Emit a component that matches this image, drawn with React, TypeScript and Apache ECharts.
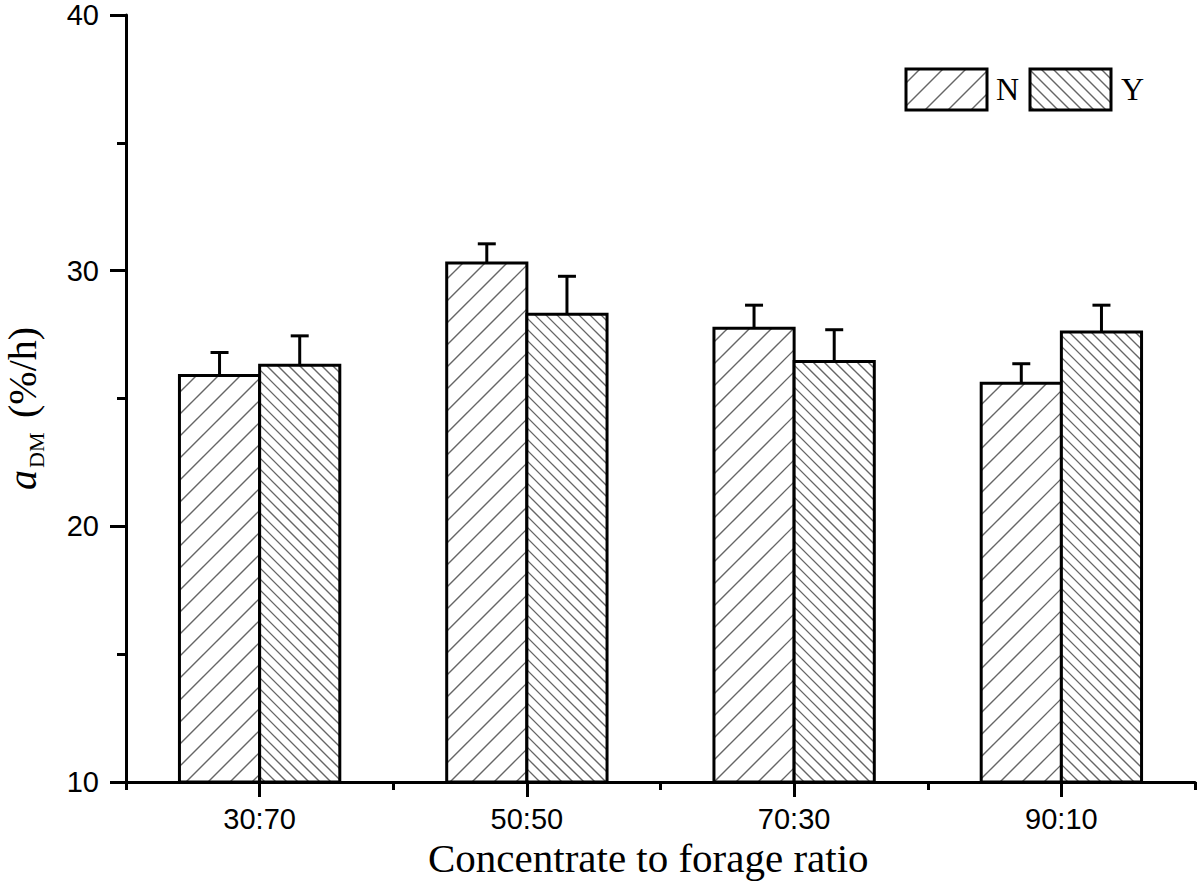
import React, { useEffect, useRef } from "react";
import * as echarts from "echarts";

const categories = ["30:70", "50:50", "70:30", "90:10"];
const nValues = [25.9, 30.3, 27.75, 25.6];
const nErrors = [0.9, 0.75, 0.9, 0.76];
const yValues = [26.3, 28.3, 26.45, 27.6];
const yErrors = [1.15, 1.48, 1.24, 1.05];
const yTicks = [10, 20, 30, 40];

const Y_MIN = 10;
const Y_MAX = 40;
const SERIF = "'Liberation Serif', 'Times New Roman', serif";
const SANS = "'Liberation Sans', Arial, sans-serif";

const hatchStyle = { stroke: "#666", lineWidth: 1.4, fill: "none" };

function hatch(x0: number, y0: number, x1: number, y1: number, step: number, dir: "up" | "down") {
  const out: any[] = [];
  if (dir === "up") {
    const cStart = Math.ceil((x0 + y0) / step) * step;
    for (let c = cStart; c <= x1 + y1; c += step) {
      const xa = Math.max(x0, c - y1);
      const xb = Math.min(x1, c - y0);
      if (xb - xa < 0.5) continue;
      out.push({ type: "line", shape: { x1: xa, y1: c - xa, x2: xb, y2: c - xb }, style: hatchStyle, silent: true });
    }
  } else {
    const cStart = Math.ceil((x0 - y1) / step) * step;
    for (let c = cStart; c <= x1 - y0; c += step) {
      const xa = Math.max(x0, c + y0);
      const xb = Math.min(x1, c + y1);
      if (xb - xa < 0.5) continue;
      out.push({ type: "line", shape: { x1: xa, y1: xa - c, x2: xb, y2: xb - c }, style: hatchStyle, silent: true });
    }
  }
  return out;
}

function makeRenderItem(side: number, step: number, dir: "up" | "down") {
  return (params: any, api: any) => {
    const idx = api.value(0);
    const val = api.value(1);
    const err = api.value(2);
    const top = api.coord([idx, val]);
    const base = api.coord([idx, Y_MIN]);
    const catW = api.size([1, 0])[0];
    const bw = catW * 0.3;
    const x0 = side < 0 ? top[0] - bw : top[0];
    const x1 = x0 + bw;
    const y0 = top[1];
    const y1 = base[1];
    const errTop = api.coord([idx, val + err])[1];
    const cx = (x0 + x1) / 2;
    const black = { stroke: "#000", lineWidth: 3 };
    return {
      type: "group",
      children: [
        { type: "rect", shape: { x: x0, y: y0, width: bw, height: y1 - y0 }, style: { fill: "#fff" } },
        ...hatch(x0, y0, x1, y1, step, dir),
        { type: "line", shape: { x1: cx, y1: y0, x2: cx, y2: errTop }, style: black },
        { type: "line", shape: { x1: cx - 9, y1: errTop, x2: cx + 9, y2: errTop }, style: black },
        { type: "rect", shape: { x: x0, y: y0, width: bw, height: y1 - y0 }, style: { fill: "none", stroke: "#000", lineWidth: 3 } },
      ],
    };
  };
}

function legendBox(x: number, y: number, w: number, h: number, step: number, dir: "up" | "down") {
  return [
    { type: "rect", shape: { x, y, width: w, height: h }, style: { fill: "#fff" } },
    ...hatch(x, y, x + w, y + h, step, dir),
    { type: "rect", shape: { x, y, width: w, height: h }, style: { fill: "none", stroke: "#000", lineWidth: 3 } },
  ];
}

export default function App() {
  const ref = useRef<HTMLDivElement>(null);
  useEffect(() => {
    if (!ref.current) return;
    const chart = echarts.init(ref.current, null, { renderer: "svg" });
    const nData = categories.map((_, i) => [i, nValues[i], nErrors[i]]);
    const yData = categories.map((_, i) => [i, yValues[i], yErrors[i]]);
    const axisLineStyle = { color: "#000", width: 3 };
    chart.setOption({
      animation: false,
      backgroundColor: "#fff",
      grid: { left: 126, right: 5, top: 15, bottom: 103, containLabel: false },
      xAxis: [
        {
          type: "category",
          data: categories,
          position: "bottom",
          boundaryGap: true,
          axisLine: { show: true, lineStyle: axisLineStyle },
          axisTick: { show: true, alignWithLabel: true, length: 15, lineStyle: axisLineStyle },
          axisLabel: { show: true, margin: 22, fontSize: 29, fontFamily: SANS, color: "#000" },
          splitLine: { show: false },
        },
        {
          type: "category",
          data: categories,
          position: "bottom",
          boundaryGap: true,
          axisLine: { show: false },
          axisTick: { show: true, length: 8, lineStyle: axisLineStyle },
          axisLabel: { show: false },
          splitLine: { show: false },
        },
      ],
      yAxis: {
        type: "value",
        min: Y_MIN,
        max: Y_MAX,
        interval: 10,
        axisLine: { show: true, lineStyle: axisLineStyle },
        axisTick: { show: true, length: 16, lineStyle: axisLineStyle },
        minorTick: { show: true, splitNumber: 2, length: 9, lineStyle: axisLineStyle },
        axisLabel: {
          margin: 27,
          fontSize: 29,
          fontFamily: SANS,
          color: "#000",
          formatter: (v: number) => (yTicks.includes(v) ? String(v) : ""),
        },
        splitLine: { show: false },
        minorSplitLine: { show: false },
      },
      series: [
        {
          name: "N",
          type: "custom",
          xAxisIndex: 0,
          data: nData,
          encode: { x: 0, y: 1 },
          renderItem: makeRenderItem(-1, 22, "up"),
          silent: true,
        },
        {
          name: "Y",
          type: "custom",
          xAxisIndex: 0,
          data: yData,
          encode: { x: 0, y: 1 },
          renderItem: makeRenderItem(1, 11, "down"),
          silent: true,
        },
      ],
      graphic: [
        ...legendBox(906, 69, 81, 41, 23, "up"),
        ...legendBox(1030, 69, 81, 41, 12, "down"),
        { type: "text", x: 996, y: 89, style: { text: "N", font: `32px ${SERIF}`, fill: "#000", textAlign: "left", textVerticalAlign: "middle" } },
        { type: "text", x: 1121, y: 89, style: { text: "Y", font: `32px ${SERIF}`, fill: "#000", textAlign: "left", textVerticalAlign: "middle" } },
        { type: "text", x: 428, y: 858, style: { text: "Concentrate to forage ratio", font: `41px ${SERIF}`, fill: "#000", textAlign: "left", textVerticalAlign: "middle" } },
        { type: "text", x: 22, y: 490, rotation: Math.PI / 2, style: { text: "a", font: `italic 40px ${SERIF}`, fill: "#000", textAlign: "left", textVerticalAlign: "middle" } },
        { type: "text", x: 36, y: 468, rotation: Math.PI / 2, style: { text: "DM", font: `22px ${SERIF}`, fill: "#000", textAlign: "left", textVerticalAlign: "middle" } },
        { type: "text", x: 22, y: 418, rotation: Math.PI / 2, style: { text: "(%/h)", font: `40px ${SERIF}`, fill: "#000", textAlign: "left", textVerticalAlign: "middle" } },
      ],
    });
    return () => chart.dispose();
  }, []);
  return <div ref={ref} style={{ position: "fixed", left: 0, top: 0, width: 1200, height: 885, background: "#fff" }} />;
}
